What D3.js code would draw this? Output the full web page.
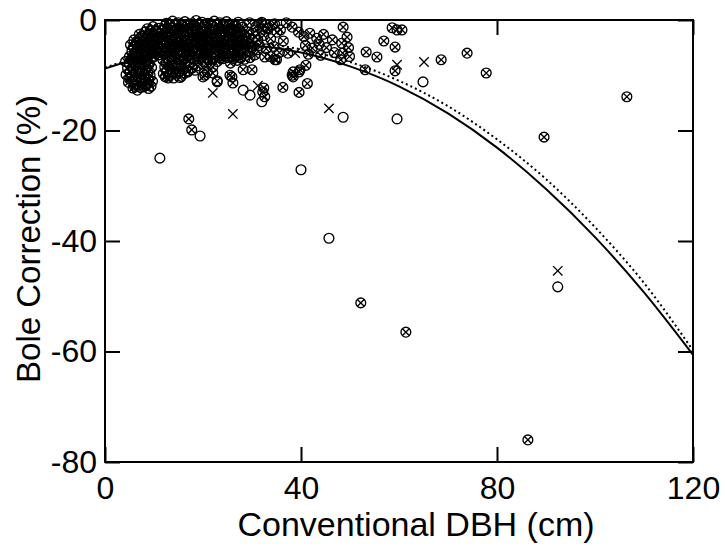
<!DOCTYPE html>
<html>
<head>
<meta charset="utf-8">
<script src="https://cdn.jsdelivr.net/npm/d3@7"></script>
<style>
  body { margin: 0; background: #fff; }
  svg text { font-family: 'Liberation Sans', Arial, sans-serif; fill: #000; }
</style>
</head>
<body>
<div id="chart"></div>
<script>
// ticks
const xTicks = [0, 40, 80, 120]
const yTicks = [0, -20, -40, -60, -80]

// fitted curves at every 10 cm
const fitDbh = [0, 10, 20, 30, 40, 50, 60, 70, 80, 90, 100, 110, 120]
const fitSolid = [-8.8, -6.2, -4.8, -4.7, -5.9, -8.4, -12.0, -16.9, -23.1, -30.6, -39.3, -49.3, -60.6]
const fitDotted = [-8.6, -6.0, -4.5, -4.3, -5.3, -7.6, -11.0, -15.6, -21.6, -28.8, -37.5, -47.6, -59.8]

// trees plotted as a circle with a cross inside: small stems (< 16 cm)
const crossedSmall = [
  [4.2, -7.5], [5.4, -7.1], [6.6, -7.7], [7.8, -7.2], [9.0, -7.9],
  [4.6, -8.7], [5.8, -9.0], [7.1, -8.4], [8.3, -9.1], [9.5, -8.6],
  [4.3, -9.9], [5.5, -10.3], [6.8, -9.7], [8.0, -10.4], [9.2, -10.0],
  [4.8, -11.3], [6.1, -11.6], [7.3, -11.0], [8.6, -11.5], [9.7, -11.1],
  [5.7, -12.3], [6.6, -12.7], [7.8, -12.1], [8.9, -12.4],
  [5.0, -8.0], [6.2, -8.2], [7.5, -7.9], [8.8, -8.3], [5.1, -9.4], [6.3, -9.5], [7.6, -9.2],
  [8.8, -9.6], [5.0, -10.7], [6.3, -10.9], [7.6, -10.6], [8.9, -10.8], [6.0, -12.0], [7.2, -12.2],
  [8.3, -11.9], [9.4, -12.0],
  [11.8, -7.2], [13.0, -7.7], [14.2, -7.0], [15.4, -7.6],
  [12.2, -8.5], [13.5, -8.9], [14.7, -8.3], [15.9, -8.9],
  [11.9, -9.7], [13.1, -10.1], [14.4, -9.6], [15.6, -10.2],
  [12.9, -10.5], [15.3, -10.4],
  [12.5, -7.9], [13.8, -8.1], [15.0, -7.9], [12.6, -9.2], [13.9, -9.4], [15.2, -9.3],
  [12.3, -10.3], [14.0, -10.5]
]

// crossed circles: the dense cloud from 5 to 32 cm
const crossedCloud = [
  [12.5, -0.6], [13.8, -0.2], [15.0, -0.5], [16.3, -0.3], [17.5, -0.7], [18.6, -0.1], [19.8, -0.4],
  [21.0, -0.6], [22.3, -0.2], [23.5, -0.5], [24.8, -0.3], [26.0, -0.8], [27.2, -0.4],
  [13.1, -0.9], [14.4, -1.0], [15.7, -0.8], [16.9, -1.0], [18.0, -0.9], [19.2, -0.8], [20.4, -1.0],
  [21.6, -0.9], [22.9, -0.8], [24.1, -1.0], [25.4, -0.9], [26.6, -1.1],
  [8.6, -1.6], [9.8, -1.2], [11.0, -1.5], [12.2, -1.1], [13.4, -1.4], [14.6, -1.7], [15.9, -1.2],
  [17.1, -1.5], [18.3, -1.0], [19.5, -1.6], [20.7, -1.3], [22.0, -1.1], [23.2, -1.7], [24.4, -1.2],
  [25.6, -1.5], [26.9, -1.9], [28.1, -1.3],
  [9.2, -1.9], [10.4, -2.0], [11.6, -1.8], [12.8, -2.0], [14.0, -1.9], [15.2, -1.8], [16.5, -2.0],
  [17.7, -1.9], [18.9, -1.8], [20.1, -2.0], [21.3, -1.9], [22.6, -1.8], [23.8, -2.0], [25.0, -1.9],
  [26.2, -1.8], [27.5, -2.0],
  [7.0, -2.6], [8.1, -2.2], [9.3, -2.5], [10.5, -2.1], [11.8, -2.7], [13.0, -2.3], [14.2, -2.0],
  [15.4, -2.6], [16.7, -2.4], [17.9, -2.1], [19.1, -2.8], [20.3, -2.2], [21.6, -2.5], [22.8, -2.9],
  [24.0, -2.3], [25.3, -2.0], [26.5, -2.7], [27.7, -2.4], [29.0, -2.1],
  [7.6, -2.9], [8.7, -3.0], [9.9, -2.8], [11.1, -3.0], [12.4, -2.9], [13.6, -2.8], [14.8, -3.0],
  [16.0, -2.9], [17.3, -2.8], [18.5, -3.0], [19.7, -2.9], [20.9, -2.8], [22.2, -3.0], [23.4, -2.9],
  [24.6, -2.8], [25.9, -3.0], [27.1, -2.9], [28.4, -2.8],
  [5.9, -3.6], [7.2, -3.2], [8.4, -3.5], [9.6, -3.0], [10.8, -3.4], [12.0, -3.7], [13.3, -3.1],
  [14.5, -3.4], [15.7, -3.8], [17.0, -3.2], [18.2, -3.5], [19.4, -3.0], [20.6, -3.6], [21.9, -3.3],
  [23.1, -3.9], [24.3, -3.2], [25.6, -3.5], [26.8, -3.1], [28.0, -3.7], [29.4, -3.3], [30.6, -3.0],
  [6.5, -3.9], [7.8, -4.0], [9.0, -3.8], [10.2, -4.0], [11.4, -3.9], [12.6, -3.8], [13.9, -4.0],
  [15.1, -3.9], [16.3, -3.8], [17.6, -4.0], [18.8, -3.9], [20.0, -3.8], [21.2, -4.0], [22.5, -3.9],
  [23.7, -3.8], [24.9, -4.0], [26.2, -3.9], [27.4, -3.8], [28.9, -4.0],
  [5.2, -4.5], [6.4, -4.1], [7.6, -4.6], [8.9, -4.2], [10.1, -4.7], [11.3, -4.3], [12.6, -4.0],
  [13.8, -4.6], [15.0, -4.2], [16.2, -4.8], [17.5, -4.4], [18.7, -4.1], [19.9, -4.6], [21.2, -4.3],
  [22.4, -4.9], [23.6, -4.2], [24.9, -4.5], [26.1, -4.1], [27.3, -4.7], [28.7, -4.4], [30.0, -4.8],
  [5.8, -4.9], [7.0, -5.0], [8.2, -4.8], [9.5, -5.0], [10.7, -4.9], [11.9, -4.8], [13.2, -5.0],
  [14.4, -4.9], [15.6, -4.8], [16.8, -5.0], [18.1, -4.9], [19.3, -4.8], [20.5, -5.0], [21.8, -4.9],
  [23.0, -4.8], [24.2, -5.0], [25.5, -4.9], [26.7, -4.8], [28.0, -5.0], [29.6, -4.9],
  [5.5, -5.6], [6.8, -5.2], [8.0, -5.5], [9.2, -5.0], [10.5, -5.7], [11.7, -5.3], [12.9, -5.6],
  [14.1, -5.1], [15.4, -5.4], [16.6, -5.8], [17.8, -5.2], [19.1, -5.5], [20.3, -5.9], [21.5, -5.1],
  [22.8, -5.4], [24.0, -5.8], [25.2, -5.2], [26.5, -5.6], [27.8, -5.3], [29.1, -5.7], [31.0, -5.4],
  [6.1, -5.9], [7.4, -6.0], [8.6, -5.8], [9.8, -6.0], [11.1, -5.9], [12.3, -5.8], [13.5, -6.0],
  [14.7, -5.9], [16.0, -5.8], [17.2, -6.0], [18.4, -5.9], [19.7, -5.8], [20.9, -6.0], [22.1, -5.9],
  [23.4, -5.8], [24.6, -6.0], [25.8, -5.9], [27.1, -5.8], [28.5, -6.0],
  [5.0, -6.6], [6.2, -6.2], [7.4, -6.5], [8.7, -6.1], [9.9, -6.7], [11.1, -6.3], [12.4, -6.0],
  [13.6, -6.6], [14.8, -6.2], [16.0, -6.8], [17.3, -6.4], [18.5, -6.1], [19.7, -6.7], [21.0, -6.3],
  [22.2, -6.9], [23.5, -6.4], [24.7, -6.1], [26.0, -6.6], [27.4, -6.3], [29.6, -6.8], [32.6, -6.7],
  [5.6, -6.9], [6.8, -7.0], [8.0, -6.8], [9.3, -7.0], [17.9, -6.9], [19.1, -7.0], [20.8, -6.8],
  [22.0, -7.0], [23.6, -6.9], [24.9, -6.8], [26.3, -7.0], [27.7, -6.9],
  [17.0, -7.4], [18.3, -7.1], [20.2, -7.6], [21.4, -7.2], [22.9, -7.5], [24.1, -7.0], [25.6, -7.8],
  [27.0, -7.3], [28.5, -7.1],
  [16.3, -8.2], [17.8, -8.7], [19.0, -8.3], [20.6, -8.0], [22.0, -8.5], [28.2, -9.0], [30.0, -9.0],
  [16.9, -9.4], [18.4, -9.1], [20.0, -10.3], [20.9, -9.4], [22.0, -9.6], [25.5, -10.0],
  [25.9, -10.3], [26.1, -11.4], [20.4, -10.0], [22.9, -11.0]
]

// crossed circles from 28 cm up
const crossedLarge = [
  [29.5, -0.5], [30.8, -1.2], [32.0, -0.4], [33.3, -1.6], [34.6, -0.7], [35.8, -1.8], [37.0, -0.5],
  [38.2, -1.3], [39.5, -2.2], [31.8, -0.6], [33.0, -1.5], [34.2, -0.9], [32.4, -2.8], [33.8, -3.4],
  [35.1, -2.2], [31.5, -4.6], [32.9, -5.2], [34.5, -4.8], [35.6, -5.9], [36.4, -3.8], [33.7, -6.6],
  [35.0, -7.2], [37.3, -6.0], [34.7, -7.2], [30.2, -2.4], [31.2, -3.6], [32.1, -1.7], [30.6, -6.3],
  [40.6, -3.0], [41.8, -2.4], [43.2, -3.3], [44.6, -2.6], [40.9, -4.6], [42.3, -5.1], [43.7, -4.4],
  [45.2, -5.0], [46.4, -3.6], [41.5, -6.2], [44.0, -6.4], [46.8, -5.9],
  [48.6, -1.3], [49.4, -3.1], [48.3, -4.2], [49.7, -5.0], [48.5, -6.0], [49.9, -6.6], [48.1, -7.2],
  [38.4, -9.4], [39.6, -9.4], [38.4, -10.3], [38.2, -10.0], [39.8, -9.0], [41.0, -8.2],
  [36.3, -12.2], [39.6, -13.1], [41.3, -11.5], [32.4, -12.3], [32.2, -13.0], [32.6, -13.9],
  [17.1, -17.9], [17.7, -19.9],
  [58.6, -1.4], [59.6, -1.8], [60.6, -1.8], [56.9, -3.8], [59.2, -4.9], [53.3, -5.8], [55.5, -6.7],
  [53.1, -9.0], [59.2, -9.2], [68.6, -7.2], [73.9, -6.0], [77.8, -9.6], [89.6, -21.2],
  [106.5, -13.9], [52.2, -51.2], [61.4, -56.5], [86.3, -76.0]
]

// trees plotted as a plain circle
const openCircles = [
  [64.9, -11.2], [48.6, -17.6], [59.6, -17.9], [45.7, -39.5], [40.0, -27.1], [92.4, -48.3],
  [11.2, -25.0], [19.4, -21.0], [16.9, -9.2], [28.2, -12.7], [29.6, -13.6], [32.0, -14.8],
  [22.9, -11.2], [16.3, -9.6]
]

// trees plotted as a plain cross
const crosses = [
  [59.6, -8.1], [65.1, -7.6], [92.4, -45.4], [45.7, -16.0], [26.1, -17.0], [22.0, -13.2],
  [31.2, -11.9], [38.8, -6.0]
]

class BoleCorrectionChart {
  constructor (parentSelector, width, height) {
    this.width = width
    this.height = height
    this.margin = { top: 20, right: 32, bottom: 88, left: 105 }
    this.innerWidth = width - this.margin.left - this.margin.right
    this.innerHeight = height - this.margin.top - this.margin.bottom
    this.x = d3.scaleLinear().domain([0, 120]).range([0, this.innerWidth])
    this.y = d3.scaleLinear().domain([-80, 0]).range([this.innerHeight, 0])
    this.svg = d3.select(parentSelector)
      .append('svg')
      .attr('width', width)
      .attr('height', height)
    this.plot = this.svg.append('g')
      .attr('transform', `translate(${this.margin.left}, ${this.margin.top})`)
  }

  create () {
    this.__createAxes()
    this.__createCurves()
    this.__createMarkers()
    this.__createTitles()

    // frame on top of everything
    this.plot.append('rect')
      .attr('width', this.innerWidth)
      .attr('height', this.innerHeight)
      .attr('fill', 'none')
      .attr('stroke', '#000')
      .attr('stroke-width', 2)
  }

  __createAxes () {
    const tick = 15
    const axes = [
      { axis: d3.axisBottom(this.x).tickValues(xTicks), at: `translate(0, ${this.innerHeight})`, labels: true },
      { axis: d3.axisTop(this.x).tickValues(xTicks), at: 'translate(0, 0)', labels: false },
      { axis: d3.axisLeft(this.y).tickValues(yTicks), at: 'translate(0, 0)', labels: true },
      { axis: d3.axisRight(this.y).tickValues(yTicks), at: `translate(${this.innerWidth}, 0)`, labels: false }
    ]

    axes.forEach(a => {
      a.axis.tickSizeInner(-tick).tickSizeOuter(0)
      if (a.labels) a.axis.tickFormat(d => String(d)).tickPadding(8) // plain hyphen minus
      else a.axis.tickFormat('')
      const g = this.plot.append('g').attr('transform', a.at).call(a.axis)
      g.select('.domain').remove()
      g.selectAll('.tick line').attr('stroke', '#000').attr('stroke-width', 2)
      g.selectAll('.tick text')
        .attr('font-size', 32)
        .attr('fill', '#000')
    })

    // push bottom labels down a little
    this.plot.selectAll('.tick text')
      .filter(function () { return d3.select(this).attr('dy') === '0.71em' })
      .attr('y', 14)
  }

  __createCurves () {
    const line = d3.line()
      .x(d => this.x(d[0]))
      .y(d => this.y(d[1]))
      .curve(d3.curveMonotoneX)

    this.plot.append('path')
      .datum(d3.zip(fitDbh, fitDotted))
      .attr('d', line)
      .attr('fill', 'none')
      .attr('stroke', '#000')
      .attr('stroke-width', 2)
      .attr('stroke-dasharray', '2,3')

    this.plot.append('path')
      .datum(d3.zip(fitDbh, fitSolid))
      .attr('d', line)
      .attr('fill', 'none')
      .attr('stroke', '#000')
      .attr('stroke-width', 2)
  }

  __createMarkers () {
    const r = 4.9
    const xArm = 3.4
    const crossArm = 4.7
    const xPath = a => `M${-a},${-a}L${a},${a}M${-a},${a}L${a},${-a}`

    const place = d => `translate(${this.x(d[0])}, ${this.y(d[1])})`
    const markers = this.plot.append('g')
      .attr('fill', 'none')
      .attr('stroke', '#000')
      .attr('stroke-width', 1.35)

    const both = markers.selectAll('.crossed')
      .data(crossedSmall.concat(crossedCloud, crossedLarge))
      .join('g')
      .classed('crossed', true)
      .attr('transform', place)
    both.append('circle').attr('r', r)
    both.append('path').attr('d', xPath(xArm))

    markers.selectAll('.open')
      .data(openCircles)
      .join('circle')
      .classed('open', true)
      .attr('transform', place)
      .attr('r', r)

    markers.selectAll('.cross')
      .data(crosses)
      .join('path')
      .classed('cross', true)
      .attr('transform', place)
      .attr('d', xPath(crossArm))
  }

  __createTitles () {
    this.svg.append('text')
      .attr('x', 416)
      .attr('y', 536)
      .attr('text-anchor', 'middle')
      .attr('font-size', 34)
      .text('Conventional DBH (cm)')

    this.svg.append('text')
      .attr('transform', `translate(40, 239) rotate(-90)`)
      .attr('text-anchor', 'middle')
      .attr('font-size', 33)
      .text('Bole Correction (%)')
  }
}

const chart = new BoleCorrectionChart('#chart', 725, 550)
chart.create()
</script>
</body>
</html>
